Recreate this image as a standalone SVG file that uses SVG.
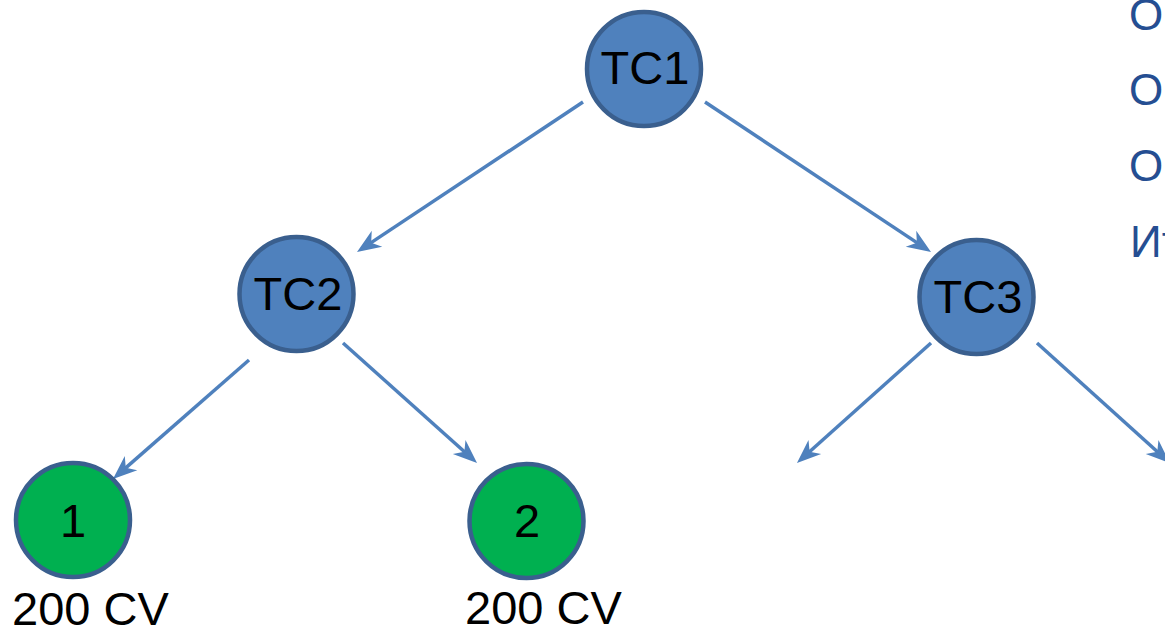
<svg xmlns="http://www.w3.org/2000/svg" width="1165" height="629" viewBox="0 0 1165 629">
  <style>
    .blue { fill: #4f81bd; stroke: #3a5f8e; stroke-width: 4.5; }
    .green { fill: #00b050; stroke: #3a5f8e; stroke-width: 4.5; }
    .lbl { font-family: "Liberation Sans", Arial, sans-serif; font-size: 47px; fill: #000; text-anchor: middle; }
    .cap { font-family: "Liberation Sans", Arial, sans-serif; font-size: 47px; fill: #000; }
    .side { font-family: "Liberation Sans", Arial, sans-serif; font-size: 44px; fill: #254e92; }
    .edge { stroke: #4f81bd; stroke-width: 3.5; fill: none; marker-end: url(#arr); }
  </style>
  <defs>
    <marker id="arr" markerUnits="userSpaceOnUse" orient="auto" viewBox="-14 -11 28 22" markerWidth="28" markerHeight="22" refX="0" refY="0">
      <path d="M12,0 L-12,-9.5 L-5,0 L-12,9.5 Z" fill="#4f81bd"/>
    </marker>
  </defs>
  <rect width="1165" height="629" fill="#ffffff"/>
  <g id="connectors">
    <line class="edge" x1="583" y1="102" x2="367" y2="245.4"/>
    <line class="edge" x1="705" y1="102" x2="921" y2="245.4"/>
    <line class="edge" x1="249" y1="360" x2="122" y2="471.1"/>
    <line class="edge" x1="343" y1="343" x2="468.1" y2="455"/>
    <line class="edge" x1="931" y1="343" x2="805.9" y2="455"/>
    <line class="edge" x1="1037" y1="343" x2="1161" y2="455"/>
  </g>
  <g id="TC1">
    <circle class="blue" cx="644" cy="69" r="57"/>
    <text class="lbl" x="645" y="84">TC1</text>
  </g>
  <g id="TC2">
    <circle class="blue" cx="296.5" cy="294" r="57"/>
    <text class="lbl" x="298" y="310">TC2</text>
  </g>
  <g id="TC3">
    <circle class="blue" cx="976.5" cy="297" r="57"/>
    <text class="lbl" x="978" y="313">TC3</text>
  </g>
  <g id="leaf1">
    <circle class="green" cx="73" cy="520" r="57"/>
    <text class="lbl" x="73" y="537">1</text>
    <text class="cap" x="12" y="625">200 CV</text>
  </g>
  <g id="leaf2">
    <circle class="green" cx="526.5" cy="521" r="57"/>
    <text class="lbl" x="527" y="537">2</text>
    <text class="cap" x="465" y="624">200 CV</text>
  </g>
  <g id="side-text">
    <text class="side" x="1129" y="30">О</text>
    <text class="side" x="1129" y="105">О</text>
    <text class="side" x="1129" y="181">О</text>
    <text class="side" x="1130" y="257">Ит</text>
  </g>
</svg>
